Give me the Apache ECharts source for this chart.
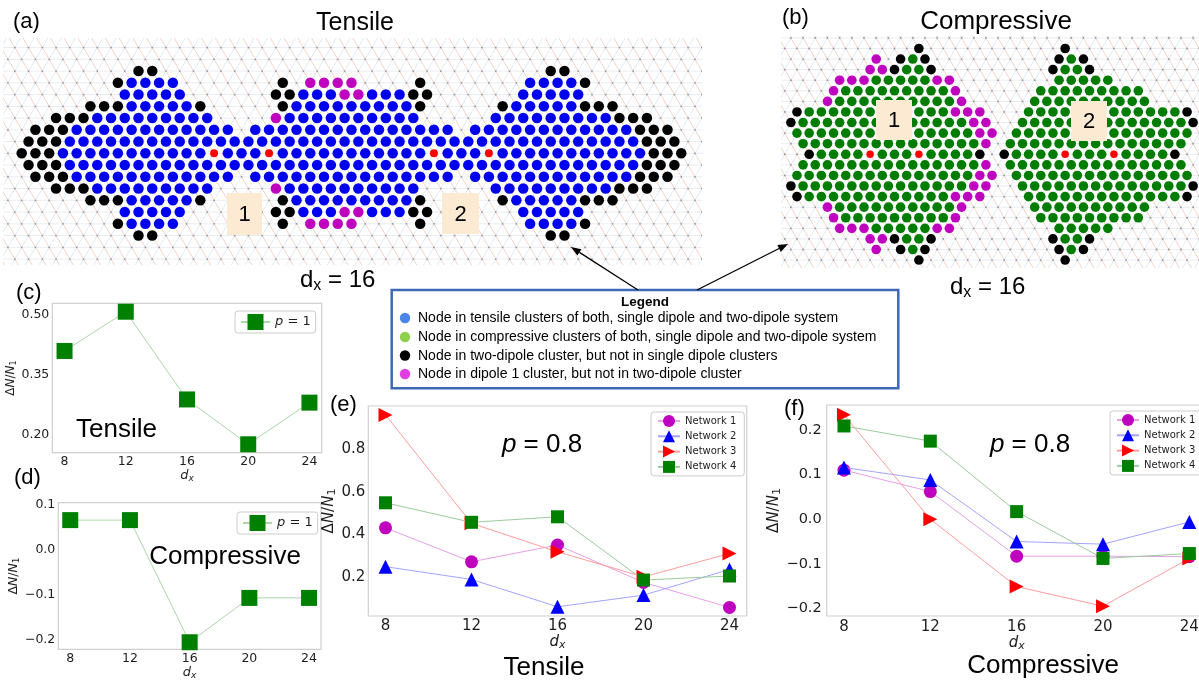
<!DOCTYPE html>
<html>
<head>
<meta charset="utf-8">
<title>Dipole clusters and ΔN/N1 versus dx</title>
<script src="https://cdn.jsdelivr.net/npm/echarts@6/dist/echarts.min.js"></script>
<style>
  html, body { margin: 0; padding: 0; background: #ffffff; }
  #chart { width: 1199px; height: 683px; }
</style>
</head>
<body>
<div id="chart"></div>
<script>
// ---------------------------------------------------------------------------
// Lattice cluster maps. One entry per lattice row (top to bottom); each token
// is a node kind followed by a column or column range.
//   B tensile node (both systems)   G compressive node (both systems)
//   K two-dipole cluster only       M dipole-1 cluster only      R dipole node
// Even rows sit half a lattice spacing to the right.
// ---------------------------------------------------------------------------
const tensileRows = [
  '',
  '',
  'K9-10 K39-40',
  'K8 B9-12 K20 M22-25 K30 B38-41 K42',
  'B8-12 K19-20 B21-23 M24-25 B26-28 K29-30 B37-41',
  'K6-8 B9-13 K14 K20 B21-29 K30 K36 B37-41 K42-44',
  'K3-5 B6-14 M19 B20-29 B35-43 K44-46',
  'K2-4 B5-16 B18-32 B34-45 K46-48',
  'K1-3 B4-45 K46-48',
  'K1-3 B4-14 R15 B16-18 R19 B20-30 R31 B32-34 R35 B36-46 K47-49',
  'K1-3 B4-45 K46-48',
  'K2-4 B5-16 B18-32 B34-45 K46-48',
  'K3-5 B6-14 M19 B20-29 B35-43 K44-46',
  'K6-8 B9-13 K14 K20 B21-29 K30 K36 B37-41 K42-44',
  'B8-12 K19-20 B21-23 M24-25 B26-28 K29-30 B37-41',
  'K8 B9-12 K20 M22-25 K30 B38-41 K42',
  'K9-10 K39-40',
  '',
  ''
];

const compressiveRows = [
  '',
  'K12 K24',
  'M8 K10 G11 K12 K23 G24 K25',
  'M8-9 K10 G11-12 K13 K23 G24-25 K26',
  'M5-7 G8-12 M13-14 G23-27',
  'M5 G6-14 M15 G22-30',
  'M4 G5-14 M15 G21-30',
  'K2 G3-14 M15-17 G21-33 K34',
  'K1 G2-15 M16-17 G20-33 K34',
  'G2-16 M17-18 G20-34',
  'G2-16 M17 G19-33',
  'K3 G4-7 R8 G9-11 R12 G13-16 K17 K19 G20-23 R24 G25-27 R28 G29-32 K33',
  'G2-16 M17 G19-33',
  'G2-16 M17-18 G20-34',
  'K1 G2-15 M16-17 G20-33 K34',
  'K2 G3-14 M15-17 G21-33 K34',
  'M4 G5-14 M15 G21-30',
  'M5 G6-14 M15 G22-30',
  'M5-7 G8-12 M13-14 G23-27',
  'M8-9 K10 G11-12 K13 K23 G24-25 K26',
  'M8 K10 G11 K12 K23 G24 K25',
  'K12 K24'
];

// ---------------------------------------------------------------------------
// ΔN/N1 against dipole separation d_x
// ---------------------------------------------------------------------------
const dxValues = [8, 12, 16, 20, 24];

const tensileP1     = [0.410, 0.508, 0.289, 0.177, 0.281];
const compressiveP1 = [0.065, 0.065, -0.205, -0.107, -0.107];

const tensileNet1 = [0.430, 0.270, 0.349, 0.173, 0.055];
const tensileNet2 = [0.247, 0.187, 0.058, 0.113, 0.234];
const tensileNet3 = [0.962, 0.451, 0.317, 0.199, 0.309];
const tensileNet4 = [0.548, 0.456, 0.482, 0.184, 0.203];

const compressiveNet1 = [0.110, 0.062, -0.083, -0.083, -0.084];
const compressiveNet2 = [0.116, 0.088, -0.050, -0.056, -0.006];
const compressiveNet3 = [0.234, 0.000, -0.151, -0.195, -0.088];
const compressiveNet4 = [0.209, 0.175, 0.017, -0.088, -0.077];

const networkNames = ['Network 1', 'Network 2', 'Network 3', 'Network 4'];

const ticksC = [0.20, 0.35, 0.50];
const ticksD = [-0.2, -0.1, 0.0, 0.1];
const ticksE = [0.2, 0.4, 0.6, 0.8];
const ticksF = [-0.2, -0.1, 0.0, 0.1, 0.2];

const legendLines = [
  'Node in tensile clusters of both, single dipole and two-dipole system',
  'Node in compressive clusters of both, single dipole and two-dipole system',
  'Node in two-dipole cluster, but not in single dipole clusters',
  'Node in dipole 1 cluster, but not in two-dipole cluster'
];
const legendDotColors = ['#4a86e8', '#8fd14f', '#000000', '#e03ee0'];

// ---------------------------------------------------------------------------
const SANS = "'Liberation Sans', Arial, sans-serif";
const MPL = "'DejaVu Sans', sans-serif";
const TXT = '#1e1e1e';

function parseRuns(spec) {
  const out = [];
  spec.split(/\s+/).filter(Boolean).forEach(tok => {
    const m = tok.match(/^([A-Z])(\d+)(?:-(\d+))?$/);
    const a = +m[2], b = m[3] ? +m[3] : a;
    for (let c = a; c <= b; c++) out.push([m[1], c]);
  });
  return out;
}
function siteX(c, r) { return c + (r % 2 === 0 ? 0.5 : 0); }
function nodesOf(rows, kind) {
  const pts = [];
  rows.forEach((spec, r) => parseRuns(spec).forEach(([k, c]) => {
    if (k === kind) pts.push([siteX(c, r), r]);
  }));
  return pts;
}

// Background triangular lattice: bonds and small site markers
function latticeSeries(gi, rMin, rMax, cMin, cMax) {
  const sites = [];
  for (let r = rMin; r <= rMax; r++)
    for (let c = cMin; c <= cMax; c++) sites.push([siteX(c, r), r]);
  return {
    type: 'custom', xAxisIndex: gi, yAxisIndex: gi, data: sites,
    clip: true, silent: true, z: 1,
    renderItem(params, api) {
      const u = api.value(0), r = api.value(1);
      const p = api.coord([u, r]);
      const h = api.coord([u + 1, r]);
      const dr = api.coord([u + 0.5, r + 1]);
      const dl = api.coord([u - 0.5, r + 1]);
      return {
        type: 'group',
        children: [
          { type: 'line', shape: { x1: p[0], y1: p[1], x2: h[0], y2: h[1] }, style: { stroke: '#e2e9f0', lineWidth: 0.8 } },
          { type: 'line', shape: { x1: p[0], y1: p[1], x2: dr[0], y2: dr[1] }, style: { stroke: '#f3c8ba', lineWidth: 0.8 } },
          { type: 'line', shape: { x1: p[0], y1: p[1], x2: dl[0], y2: dl[1] }, style: { stroke: '#d8e6f3', lineWidth: 0.8 } },
          { type: 'circle', shape: { cx: p[0], cy: p[1], r: 0.9 }, style: { fill: '#969696' } }
        ]
      };
    }
  };
}

function nodeSeries(gi, rows, kind, color, size) {
  return {
    type: 'scatter', xAxisIndex: gi, yAxisIndex: gi, silent: true, z: 3,
    data: nodesOf(rows, kind), symbol: 'circle', symbolSize: size,
    itemStyle: { color: color, opacity: 1 }
  };
}

function pairs(ys) { return dxValues.map((x, i) => [x, ys[i]]); }
const fmtSigned = d => v => (v < -1e-9 ? '\u2212' : '') + Math.abs(v).toFixed(d);

const TRI_RIGHT = 'path://M0,0L10,5L0,10Z';
const netStyles = [
  { symbol: 'circle', color: '#bf00bf', line: '#e6a0e6', size: 13 },
  { symbol: 'triangle', color: '#0000ff', line: '#a3a3ff', size: 14 },
  { symbol: TRI_RIGHT, color: '#ff0000', line: '#ff9d9d', size: 14 },
  { symbol: 'rect', color: '#008000', line: '#9ccc9c', size: 13 }
];

function netSeries(gi, values, k) {
  const s = netStyles[k];
  return {
    type: 'line', name: networkNames[k], xAxisIndex: gi, yAxisIndex: gi,
    data: pairs(values), symbol: s.symbol, symbolSize: s.size, showAllSymbol: true,
    itemStyle: { color: s.color }, lineStyle: { color: s.line, width: 1 },
    z: 3 + k, animation: false
  };
}

function p1Series(gi, values) {
  return {
    type: 'line', name: 'p = 1', xAxisIndex: gi, yAxisIndex: gi,
    data: pairs(values), symbol: 'rect', symbolSize: 16,
    itemStyle: { color: '#008000' }, lineStyle: { color: '#a9d8a9', width: 1 }, z: 3
  };
}

function plotGrid(left, top, width, height) {
  return { left, top, width, height, show: true, borderColor: '#d0d0d0', borderWidth: 1.2,
           backgroundColor: 'transparent', outerBoundsMode: 'none' };
}

function dxName(size) {
  return {
    name: '{d|d}{x|x}', nameLocation: 'middle',
    nameTextStyle: {
      color: TXT, fontFamily: MPL,
      rich: {
        d: { fontSize: size, fontStyle: 'italic', fontFamily: MPL, color: TXT, lineHeight: size + 2 },
        x: { fontSize: Math.round(size * 0.7), fontStyle: 'italic', fontFamily: MPL, color: TXT, lineHeight: 6, verticalAlign: 'bottom' }
      }
    }
  };
}
function ratioName(size) {
  return {
    name: '{u|Δ}{i|N}{u|/}{i|N}{s|1}', nameLocation: 'middle', nameRotate: 90,
    nameTextStyle: {
      color: TXT, fontFamily: MPL,
      rich: {
        u: { fontSize: size, fontFamily: MPL, color: TXT, lineHeight: size + 2 },
        i: { fontSize: size, fontStyle: 'italic', fontFamily: MPL, color: TXT, lineHeight: size + 2 },
        s: { fontSize: Math.round(size * 0.7), fontFamily: MPL, color: TXT, lineHeight: 6, verticalAlign: 'bottom' }
      }
    }
  };
}

function dxAxis(gi, fontSize, margin, nameSize, nameGap) {
  return Object.assign({
    gridIndex: gi, type: 'value', min: 7.2, max: 24.8,
    axisLine: { show: false }, axisTick: { show: false }, splitLine: { show: false },
    axisLabel: { customValues: dxValues, margin: margin, fontSize: fontSize, fontFamily: MPL, color: TXT },
    nameGap: nameGap
  }, dxName(nameSize));
}
function valAxis(gi, min, max, ticks, fmt, fontSize, margin, nameSize, nameGap) {
  return Object.assign({
    gridIndex: gi, type: 'value', min, max,
    axisLine: { show: false }, axisTick: { show: false }, splitLine: { show: false },
    axisLabel: { customValues: ticks, formatter: fmt, margin: margin, fontSize: fontSize, fontFamily: MPL, color: TXT },
    nameGap: nameGap
  }, ratioName(nameSize));
}

// ---------------------------------------------------------------------------
// Annotations
// ---------------------------------------------------------------------------
const graphics = [];
function addText(text, x, y, size, align, extra) {
  graphics.push({
    type: 'text', x, y, z: 20, silent: true,
    style: Object.assign({ text, fontSize: size, fontFamily: SANS, fill: '#000', align: align || 'center', verticalAlign: 'middle' }, extra || {})
  });
}
function addLabelBox(text, x, y, w, h) {
  graphics.push({ type: 'rect', z: 15, silent: true, shape: { x, y, width: w, height: h }, style: { fill: '#fdead3' } });
  addText(text, x + w / 2, y + h / 2 + 1, 22, 'center');
}
function addArrow(x1, y1, x2, y2) {
  const ang = Math.atan2(y2 - y1, x2 - x1);
  const L = 10, W = 3.8;
  const bx = x2 - L * Math.cos(ang), by = y2 - L * Math.sin(ang);
  const nx = -Math.sin(ang), ny = Math.cos(ang);
  graphics.push({ type: 'line', z: 20, silent: true, shape: { x1, y1, x2: bx, y2: by }, style: { stroke: '#000', lineWidth: 1.3 } });
  graphics.push({ type: 'polygon', z: 20, silent: true,
    shape: { points: [[x2, y2], [bx + nx * W, by + ny * W], [bx - nx * W, by - ny * W]] }, style: { fill: '#000' } });
}
function addDx16(x, yTop) {
  graphics.push({
    type: 'text', x, y: yTop, z: 20, silent: true,
    style: {
      text: '{d|d}{x|x}{e| = 16}', align: 'left', verticalAlign: 'top', fontFamily: SANS,
      rich: {
        d: { fontSize: 24, fontFamily: SANS, fill: '#000', lineHeight: 28 },
        x: { fontSize: 16, fontFamily: SANS, fill: '#000', lineHeight: 8, verticalAlign: 'bottom' },
        e: { fontSize: 24, fontFamily: SANS, fill: '#000', lineHeight: 28 }
      }
    }
  });
}

// panel letters and titles
addText('(a)', 13, 22, 22, 'left');
addText('Tensile', 355, 23, 25);
addText('(b)', 782, 17.5, 22, 'left');
addText('Compressive', 996, 22, 26);
addText('(c)', 16, 293, 22, 'left');
addText('(d)', 14, 478, 22, 'left');
addText('(e)', 330, 405, 22, 'left');
addText('(f)', 784, 409, 22, 'left');
addText('Tensile', 116.5, 430, 26);
addText('Compressive', 225, 557, 26);
addText('Tensile', 544, 668, 26);
addText('Compressive', 1043, 666, 26);
const pRich = { i: { fontStyle: 'italic', fontSize: 26, fontFamily: SANS, fill: '#000' } };
addText('{i|p} = 0.8', 542, 445, 26, 'center', { rich: pRich });
addText('{i|p} = 0.8', 1030, 445, 26, 'center', { rich: pRich });

// dipole labels on the lattices
addLabelBox('1', 227, 193, 35, 42);
addLabelBox('2', 442, 193, 37, 41);
addLabelBox('1', 876, 100, 36, 40);
addLabelBox('2', 1071, 101, 36, 40);

// separation labels
addDx16(300, 266);
addDx16(950, 273);

// legend box for the lattice colours
graphics.push({ type: 'rect', z: 18, silent: true, shape: { x: 391.7, y: 290, width: 506.6, height: 98.3 },
  style: { fill: '#ffffff', stroke: '#3c6ab6', lineWidth: 2.5 } });
addText('Legend', 645, 302, 13.5, 'center', { fontWeight: 'bold' });
const legendRowY = [318, 337, 355.5, 374];
legendLines.forEach((t, i) => {
  graphics.push({ type: 'circle', z: 20, silent: true, shape: { cx: 405, cy: legendRowY[i], r: 5.2 }, style: { fill: legendDotColors[i] } });
  addText(t, 418, legendRowY[i] + 0.5, 14, 'left');
});

// arrows from the legend to the lattices
addArrow(638, 290, 571, 247);
addArrow(697, 290, 788, 244);

// ---------------------------------------------------------------------------
const p1Legend = (left, top) => ({
  data: ['p = 1'], left, top, itemWidth: 29, itemHeight: 20, padding: [3, 5, 3, 5],
  borderColor: '#cccccc', borderWidth: 1, borderRadius: 3, backgroundColor: 'rgba(255,255,255,0.85)',
  selectedMode: false, formatter: n => n.replace(/^p/, '{i|p}'),
  textStyle: { fontFamily: MPL, fontSize: 13, color: TXT, rich: { i: { fontStyle: 'italic', fontFamily: MPL, fontSize: 13, color: TXT } } }
});
const netLegend = (left, top) => ({
  data: networkNames, orient: 'vertical', left, top, itemWidth: 22, itemHeight: 15, itemGap: 3.3,
  padding: [3, 8, 3, 6], borderColor: '#cccccc', borderWidth: 1, borderRadius: 3,
  backgroundColor: 'rgba(255,255,255,0.85)', selectedMode: false,
  textStyle: { fontFamily: MPL, fontSize: 10, color: TXT }
});

const option = {
  animation: false,
  backgroundColor: '#ffffff',
  grid: [
    { left: 3, top: 38, width: 699, height: 227, outerBoundsMode: 'none' },      // (a)
    { left: 781, top: 36, width: 418, height: 232, outerBoundsMode: 'none' },    // (b)
    plotGrid(52.3, 303.3, 269.4, 149.4),                                          // (c)
    plotGrid(58.3, 502.7, 262.7, 146.6),                                          // (d)
    plotGrid(368.3, 406, 378.4, 210),                                             // (e)
    plotGrid(826.7, 405, 379.9, 211)                                              // (f)
  ],
  xAxis: [
    { gridIndex: 0, type: 'value', min: -0.361, max: 50.51, show: false },
    { gridIndex: 1, type: 'value', min: 0.689, max: 34.98, show: false },
    dxAxis(2, 12.5, 3, 13, 13),
    dxAxis(3, 12.5, 3, 13, 15),
    dxAxis(4, 15, 3, 15, 17),
    dxAxis(5, 15, 4, 15, 17)
  ],
  yAxis: [
    { gridIndex: 0, type: 'value', min: -0.813, max: 18.506, inverse: true, show: false },
    { gridIndex: 1, type: 'value', min: -0.18, max: 21.75, inverse: true, show: false },
    valAxis(2, 0.156, 0.529, ticksC, v => v.toFixed(2), 12.5, 3, 12, 32),
    valAxis(3, -0.2206, 0.1035, ticksD, fmtSigned(1), 12.5, 3, 12.5, 33),
    valAxis(4, 0.0146, 1.004, ticksE, v => v.toFixed(1), 15, 3, 15, 29),
    valAxis(5, -0.217, 0.256, ticksF, fmtSigned(1), 14.5, 5, 15, 41)
  ],
  legend: [
    p1Legend(235, 311),
    p1Legend(237, 512),
    netLegend(651, 412),
    netLegend(1110, 411)
  ],
  series: [
    latticeSeries(0, -1, 19, -1, 51),
    nodeSeries(0, tensileRows, 'B', '#0000f0', 10.5),
    nodeSeries(0, tensileRows, 'K', '#000000', 10.5),
    nodeSeries(0, tensileRows, 'M', '#bf00bf', 10.5),
    nodeSeries(0, tensileRows, 'R', '#ff0000', 8),

    latticeSeries(1, -1, 22, -1, 36),
    nodeSeries(1, compressiveRows, 'G', '#007d00', 9.6),
    nodeSeries(1, compressiveRows, 'K', '#000000', 9.6),
    nodeSeries(1, compressiveRows, 'M', '#bf00bf', 9.6),
    nodeSeries(1, compressiveRows, 'R', '#ff0000', 7.5),

    p1Series(2, tensileP1),
    p1Series(3, compressiveP1),

    netSeries(4, tensileNet1, 0), netSeries(4, tensileNet2, 1),
    netSeries(4, tensileNet3, 2), netSeries(4, tensileNet4, 3),

    netSeries(5, compressiveNet1, 0), netSeries(5, compressiveNet2, 1),
    netSeries(5, compressiveNet3, 2), netSeries(5, compressiveNet4, 3)
  ],
  graphic: { elements: graphics }
};

const chart = echarts.init(document.getElementById('chart'), null, { renderer: 'canvas' });
chart.setOption(option);
</script>
</body>
</html>
